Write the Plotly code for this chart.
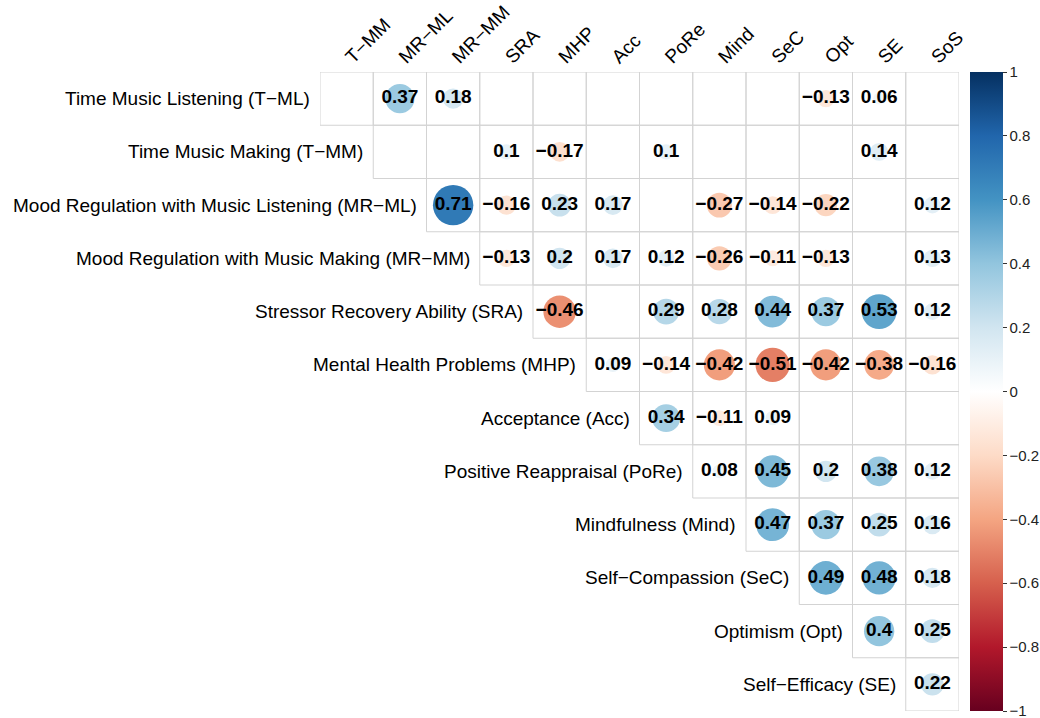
import plotly.graph_objects as go
import math

# Row variables (labels at left of each row) and column variables (top labels)
row_labels = [
    "Time Music Listening (T−ML)",
    "Time Music Making (T−MM)",
    "Mood Regulation with Music Listening (MR−ML)",
    "Mood Regulation with Music Making (MR−MM)",
    "Stressor Recovery Ability (SRA)",
    "Mental Health Problems (MHP)",
    "Acceptance (Acc)",
    "Positive Reappraisal (PoRe)",
    "Mindfulness (Mind)",
    "Self−Compassion (SeC)",
    "Optimism (Opt)",
    "Self−Efficacy (SE)",
]
col_labels = ["T−MM", "MR−ML", "MR−MM", "SRA", "MHP", "Acc", "PoRe",
              "Mind", "SeC", "Opt", "SE", "SoS"]

N = None
# Significant correlations (None = blank cell); each row starts at its diagonal column
r_TML  = [N, 0.37, 0.18, N, N, N, N, N, N, -0.13, 0.06, N]
r_TMM  = [N, N, 0.1, -0.17, N, 0.1, N, N, N, 0.14, N]
r_MRML = [0.71, -0.16, 0.23, 0.17, N, -0.27, -0.14, -0.22, N, 0.12]
r_MRMM = [-0.13, 0.2, 0.17, 0.12, -0.26, -0.11, -0.13, N, 0.13]
r_SRA  = [-0.46, N, 0.29, 0.28, 0.44, 0.37, 0.53, 0.12]
r_MHP  = [0.09, -0.14, -0.42, -0.51, -0.42, -0.38, -0.16]
r_Acc  = [0.34, -0.11, 0.09, N, N, N]
r_PoRe = [0.08, 0.45, 0.2, 0.38, 0.12]
r_Mind = [0.47, 0.37, 0.25, 0.16]
r_SeC  = [0.49, 0.48, 0.18]
r_Opt  = [0.4, 0.25]
r_SE   = [0.22]
rows = [r_TML, r_TMM, r_MRML, r_MRMM, r_SRA, r_MHP, r_Acc, r_PoRe,
        r_Mind, r_SeC, r_Opt, r_SE]
colorbar_ticks = [-1, -0.8, -0.6, -0.4, -0.2, 0, 0.2, 0.4, 0.6, 0.8, 1]

W, H = 1040, 718
L, R, T, B = 320, 81, 72, 7
n = len(col_labels)
cell_px = (W - L - R) / n

colorscale = [
    [0.0, "#67001F"], [0.1, "#B2182B"], [0.2, "#D6604D"], [0.3, "#F4A582"],
    [0.4, "#FDDBC7"], [0.5, "#FFFFFF"], [0.6, "#D1E5F0"], [0.7, "#92C5DE"],
    [0.8, "#4393C3"], [0.9, "#2166AC"], [1.0, "#053061"],
]

def fmt(v):
    s = f"{abs(v):g}"
    return ("−" + s) if v < 0 else s

xs, ys, vals, sizes, texts = [], [], [], [], []
shapes = []
for i, row in enumerate(rows):
    for k, v in enumerate(row):
        j = i + k
        shapes.append(dict(type="rect", xref="x", yref="y",
                           x0=j - 0.5, x1=j + 0.5, y0=i - 0.5, y1=i + 0.5,
                           line=dict(color="#D3D3D3", width=1), layer="below"))
        if v is None:
            continue
        xs.append(j); ys.append(i); vals.append(v)
        sizes.append(0.9 * math.sqrt(abs(v)) * cell_px)
        texts.append("<b>" + fmt(v) + "</b>")

font_family = "Liberation Sans, Arial, Helvetica, sans-serif"

fig = go.Figure()
fig.add_trace(go.Scatter(
    x=xs, y=ys, mode="markers+text", text=texts,
    textposition="middle center",
    textfont=dict(family=font_family, size=19, color="black"),
    marker=dict(size=sizes, color=vals, colorscale=colorscale, cmin=-1, cmax=1,
                line=dict(width=0), opacity=1,
                colorbar=dict(
                    xref="container", x=970 / W, xanchor="left", xpad=0,
                    yref="paper", y=0.5, yanchor="middle", ypad=0,
                    len=1, lenmode="fraction", thickness=33,
                    outlinewidth=0, ticks="outside", ticklen=4,
                    tickcolor="#333", tickvals=colorbar_ticks,
                    ticklabeloverflow="allow",
                    tickfont=dict(family=font_family, size=15, color="#222"),
                )),
    hoverinfo="skip", showlegend=False,
))

annotations = []
for i, lab in enumerate(row_labels):
    annotations.append(dict(x=i - 0.5, y=i, xref="x", yref="y", text=lab,
                            showarrow=False, xanchor="right", yanchor="middle",
                            xshift=-8,
                            font=dict(family=font_family, size=19, color="black")))

fig.update_layout(
    width=W, height=H,
    margin=dict(l=L, r=R, t=T, b=B, autoexpand=False),
    paper_bgcolor="white", plot_bgcolor="white",
    shapes=shapes, annotations=annotations,
    xaxis=dict(range=[-0.5, n - 0.5], side="top", tickvals=list(range(n)),
               ticktext=col_labels, tickangle=-45, showgrid=False,
               zeroline=False, showline=False, ticks="", automargin=False,
               tickfont=dict(family=font_family, size=19, color="black")),
    yaxis=dict(range=[n - 0.5, -0.5], visible=False, showgrid=False,
               zeroline=False, automargin=False),
)

fig.write_html("out.html",
               config={"displayModeBar": False},
               post_script="document.body.style.margin='0';"
                           "document.body.style.overflow='hidden';")
